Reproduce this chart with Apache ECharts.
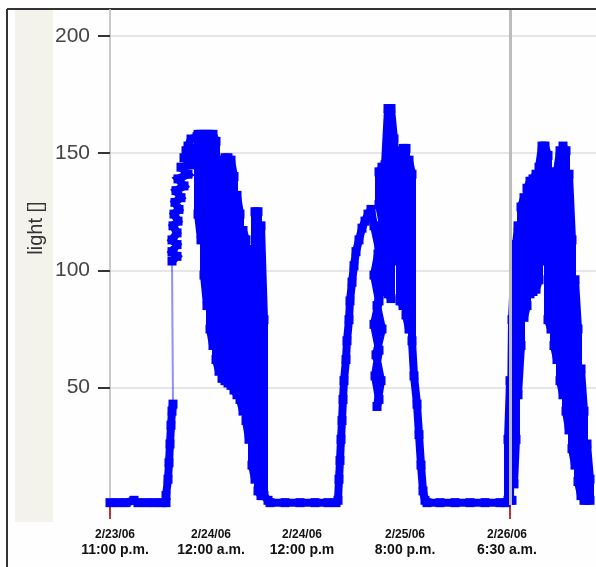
<!DOCTYPE html>
<html><head><meta charset="utf-8">
<script src="https://cdn.jsdelivr.net/npm/echarts@6/dist/echarts.min.js"></script>
<style>html,body{margin:0;padding:0;background:#fefefe}#c{width:596px;height:567px}</style>
</head><body><div id="c"></div>
<script>
// x = sample time index, y = light reading
const xTickValues = [0, 100, 200, 300, 400];
const xTickDates = ['2/23/06', '2/24/06', '2/24/06', '2/25/06', '2/26/06'];
const xTickTimes = ['11:00 p.m.', '12:00 a.m.', '12:00 p.m', '8:00 p.m.', '6:30 a.m.'];
const yTickValues = [50, 100, 150, 200];

const night1T = [0, 8, 16, 24, 28, 36, 44, 52, 56];
const night1Light = [1, 1, 1, 2, 1, 1, 1, 1, 1];
const rise1T = [56, 58, 59, 60, 61, 62, 63];
const rise1Light = [4, 11, 18, 26, 34, 40, 43];

const day1StrandT = [62,67,62,67,62,67,63,68,64,69,65,71,66,74,68,78,71,82,74,86,76,89,78,81,87];
const day1StrandLight = [104,106,108,111,113,116,119,121,124,126,129,131,134,136,139,141,144,145,148,148,151,152,153,156,157];
const day1BandT = [88,88,91,91,94,94,97,97,100,100,103,103,106,106,109,109,112,112,115,115,118,118,121,121,124,124,127,127,130,130,133,133,136,136,139,139,142,142,145,145,148,148,151,151,154,154,158];
const day1BandLight = [158,124,113,158,158,98,85,158,158,75,68,158,155,62,57,142,147,54,53,148,148,52,51,147,140,49,47,132,124,45,40,117,113,36,28,109,108,17,11,125,125,6,4,119,79,4,2];

const night2T = [160, 175, 190, 205, 218, 226];
const night2Light = [1, 1, 1, 1, 1, 1];

const day2RiseT = [228,229,230,231,232,233,234,236,237,239,240,242,244,246,249,252,255,258,261];
const day2RiseLight = [2,11,19,28,36,45,53,62,70,79,87,95,102,108,113,118,121,124,126];
const day2DipT = [264,269,264,269,264,269,265,269,267,271,266,272,267,273,268,274,269];
const day2DipLight = [119,109,98,87,77,66,55,45,42,53,64,75,85,96,107,117,128];
const day2PeakT = [269,272,272,275,275,278,278,281,281,284,284,287,287,290,290,293,293,296,296,299,299,302,302];
const day2PeakLight = [142,144,92,91,145,169,90,88,169,156,104,107,151,147,87,85,152,152,81,75,147,141,70];
const day2FallT = [304,307,309,311,313,315];
const day2FallLight = [55,43,30,17,6,2];

const night3T = [317, 330, 345, 360, 375, 390, 396];
const night3Light = [1, 1, 1, 1, 1, 1, 1];

const day3T = [398,398,400,400,402,402,404,404,406,406,408,408,411,411,414,414,417,417,420,420,423,423,426,426,429,429,432,432,435,435,438,438,441,441,444,444,447,447,450,450,453,453,456,456,459,459,462,462,465,465,468,468,471,471,474,474,477,477,480,480];
const day3Light = [2,28,53,2,2,79,98,9,28,111,119,47,68,127,131,80,85,135,138,90,91,139,141,92,96,144,153,104,109,153,149,79,75,142,139,68,62,142,151,53,47,153,151,40,32,141,113,24,17,96,75,10,4,58,40,2,2,26,11,2];

const zip = (t, v) => t.map((x, i) => [x, v[i]]);
const partA = [].concat(zip(night1T, night1Light), zip(rise1T, rise1Light));
const partB = [].concat(
  zip(day1StrandT, day1StrandLight), zip(day1BandT, day1BandLight),
  zip(night2T, night2Light),
  zip(day2RiseT, day2RiseLight), zip(day2DipT, day2DipLight), zip(day2PeakT, day2PeakLight),
  zip(day2FallT, day2FallLight),
  zip(night3T, night3Light),
  zip(day3T, day3Light)
);
const bridge = [partA[partA.length - 1], partB[0]];

const chart = echarts.init(document.getElementById('c'), null, {renderer: 'canvas'});

// per-label horizontal nudges (px) to match the original label placement
const labelShift = [5, 1, -8, -5, -3];
const rich = {};
labelShift.forEach((s, i) => {
  const pad = s >= 0 ? [0, 0, 0, 2 * s] : [0, -2 * s, 0, 0];
  rich['d' + i] = {fontSize: 12, fontWeight: 'bold', lineHeight: 15, color: '#111', fontFamily: 'Liberation Sans', padding: pad};
  rich['t' + i] = {fontSize: 14, fontWeight: 'bold', lineHeight: 17, color: '#111', fontFamily: 'Liberation Sans', padding: pad};
});

function thickSeries(data) {
  return {
    type: 'line', z: 3, symbol: 'rect', symbolSize: 9, showSymbol: true, silent: true,
    data: data,
    itemStyle: {color: '#0000ff'},
    lineStyle: {color: '#0000ff', width: 8, join: 'miter', miterLimit: 2},
    emphasis: {disabled: true}
  };
}
chart.setOption({
  animation: false,
  backgroundColor: '#fefefe',
  grid: {left: 110, right: 0, top: 10, bottom: 62, containLabel: false},
  xAxis: {
    type: 'value', min: 0, max: 486, interval: 100,
    axisLine: {show: false},
    axisTick: {show: true, customValues: [xTickValues[0], xTickValues[4]], length: 14, lineStyle: {color: '#b03a3a', width: 2}},
    axisLabel: {
      customValues: xTickValues, margin: 22, rich: rich,
      formatter: function (v) {
        const i = xTickValues.indexOf(v);
        if (i < 0) return '';
        return '{d' + i + '|' + xTickDates[i] + '}\n{t' + i + '|' + xTickTimes[i] + '}';
      }
    },
    splitLine: {show: true, lineStyle: {color: '#e8e8e8', width: 2}}
  },
  yAxis: {
    type: 'value', min: 0, max: 211, interval: 50,
    axisLine: {show: true, lineStyle: {color: '#cacaca', width: 2}},
    axisTick: {show: true, customValues: yTickValues, length: 12, lineStyle: {color: '#333', width: 2}},
    axisLabel: {
      customValues: yTickValues, margin: 20, fontSize: 21, color: '#444', fontFamily: 'Liberation Sans',
      formatter: v => yTickValues.includes(v) ? String(v) : ''
    },
    splitLine: {show: true, lineStyle: {color: '#e6e6e6', width: 2}}
  },
  graphic: [
    {type: 'rect', z: -1, shape: {x: 15, y: 10, width: 38, height: 512}, style: {fill: '#f3f3ec'}},
    {type: 'line', shape: {x1: 7, y1: 9, x2: 596, y2: 9}, style: {stroke: '#333', lineWidth: 2}},
    {type: 'line', shape: {x1: 7, y1: 9, x2: 7, y2: 567}, style: {stroke: '#333', lineWidth: 2}},
    {type: 'text', x: 36, y: 228, rotation: Math.PI / 2,
     style: {text: 'light []', fontSize: 20, fill: '#333', fontFamily: 'Liberation Sans', align: 'center', verticalAlign: 'middle'}}
  ],
  series: [
    {
      type: 'line', z: 2, data: bridge, showSymbol: false, silent: true,
      lineStyle: {color: 'rgba(70,70,255,0.6)', width: 2},
      markLine: {
        silent: true, symbol: 'none', label: {show: false},
        lineStyle: {color: '#bcbcbc', width: 3, type: 'solid'},
        data: [{xAxis: xTickValues[4]}]
      }
    },
    thickSeries(partA),
    thickSeries(partB)
  ]
});
</script></body></html>
